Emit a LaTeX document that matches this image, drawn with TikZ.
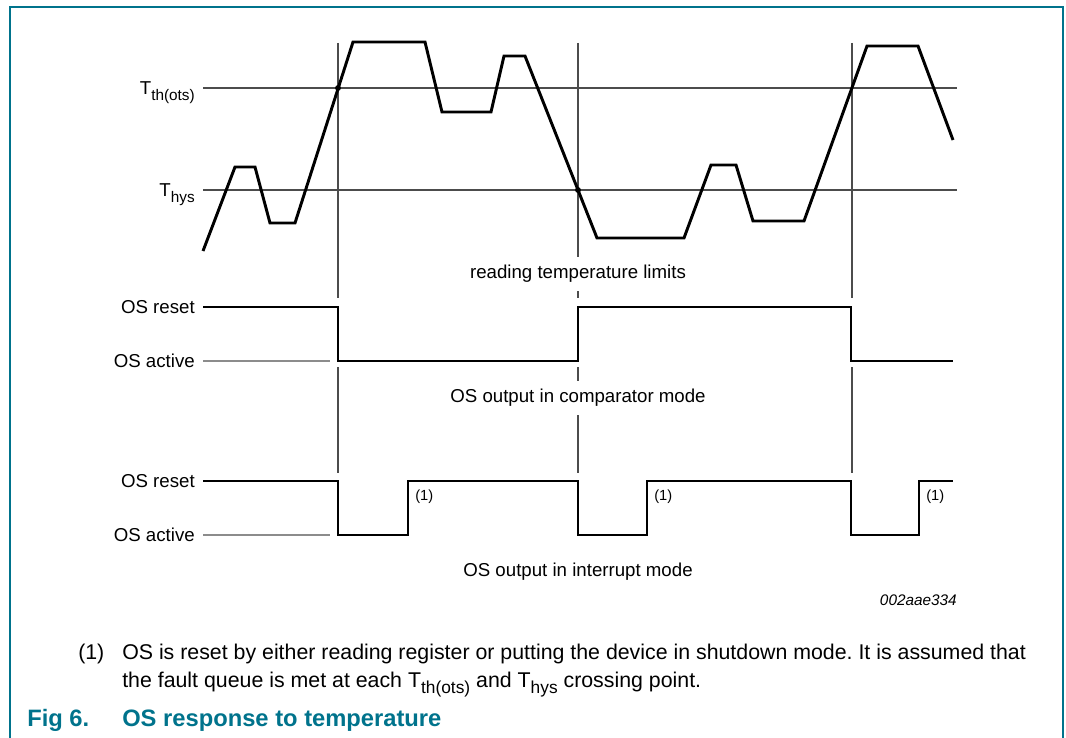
\documentclass[tikz,border=0pt]{standalone}
\usepackage{fontspec}
\setmainfont{Liberation Sans}
\usetikzlibrary{positioning}
\definecolor{nxpteal}{RGB}{0,115,140}
\newcommand\tsub[2]{\raisebox{-0.3em}{\fontsize{#1}{#1}\selectfont #2}}
\frenchspacing

\begin{document}
\begin{tikzpicture}[
    x=0.75pt, y=-0.75pt,
    wave/.style={line width=2.2pt},
    gridln/.style={line width=0.8pt, black!70},
    refln/.style={line width=0.8pt, black!45},
    lbl/.style={font=\fontsize{14}{16}\selectfont, inner sep=0pt},
    mode/.style={lbl, fill=white, inner xsep=2pt, inner ysep=6pt},
    note/.style={font=\fontsize{11}{13}\selectfont, inner sep=0pt, anchor=west},
    foot/.style={font=\fontsize{16}{18}\selectfont, inner sep=0pt, anchor=base west},
    capt/.style={font=\fontsize{17.8}{20}\selectfont\bfseries, text=nxpteal, inner sep=0pt, anchor=base west}
  ]

  \useasboundingbox (0,0) rectangle (1066,738);
  \draw[nxpteal, line width=1.5pt] (10,738) -- (10,7) -- (1063,7) -- (1063,738);

  % limits
  \coordinate (th0) at (203,88);
  \coordinate (th1) at (957,88);
  \coordinate (hy0) at (203,190);
  \coordinate (hy1) at (957,190);
  \draw[gridln] (th0) -- (th1);
  \draw[gridln] (hy0) -- (hy1);
  \node[lbl, left=6pt of th0, anchor=base east, yshift=-5pt] (Tth) {T\tsub{11.5}{th(ots)}};
  \node[lbl, left=6pt of hy0, anchor=base east, yshift=-5pt] (Thys) {T\tsub{11.5}{hys}};

  % crossing markers
  \foreach \x in {338,578,852} {
    \draw[gridln] (\x,43) -- (\x,298);
    \draw[gridln] (\x,367) -- (\x,473);
  }

  \node[mode] (rd) at (578,274) {reading temperature limits};
  \node[mode] (cmp) at (578,398) {OS output in comparator mode};
  \node[lbl] (int) at (578,572) {OS output in interrupt mode};
  \node[lbl, font=\fontsize{11.5}{13}\selectfont\itshape, anchor=east] (id) at (957,600) {002aae334};

  % temperature
  \draw[wave, line join=miter] (203,251) -- (235,167) -- (255,167) -- (270,223) -- (295,223)
    -- (353,42) -- (425,42) -- (442,112) -- (491,112) -- (504,56) -- (525,56)
    -- (597,238) -- (684,238) -- (711,165) -- (736,165) -- (753,221) -- (804,221)
    -- (867,46) -- (918,46) -- (953,140);
  \fill (338,88) circle (2.2pt);
  \fill (578,190) circle (2.2pt);

  % comparator mode
  \coordinate (cr) at (203,307);
  \coordinate (ca) at (203,361);
  \node[lbl, left=6pt of cr] (cmpR) {OS reset};
  \node[lbl, left=6pt of ca] (cmpA) {OS active};
  \draw[refln] (ca) -- (330,361);
  \draw[wave] (cr) -- (338,307) -- (338,361) -- (578,361) -- (578,307) -- (851,307)
    -- (851,361) -- (953,361);

  % interrupt mode
  \coordinate (ir) at (203,481);
  \coordinate (ia) at (203,535);
  \node[lbl, left=6pt of ir] (intR) {OS reset};
  \node[lbl, left=6pt of ia] (intA) {OS active};
  \draw[refln] (ia) -- (330,535);
  \draw[wave] (ir) -- (338,481) -- (338,535) -- (408,535) -- (408,481) -- (578,481)
    -- (578,535) -- (647,535) -- (647,481) -- (851,481) -- (851,535) -- (919,535)
    -- (919,481) -- (953,481);
  \node[note] (n1) at (415,497) {(1)};
  \node[note] (n2) at (654,497) {(1)};
  \node[note] (n3) at (926,497) {(1)};

  % footnote
  \node[foot] (fnl) at (78,659) {(1)};
  \node[foot] (fn1) at (122,659) {OS is reset by either reading register or putting the device in shutdown mode. It is assumed that};
  \node[foot] (fn2) at (122,687) {the fault queue is met at each T\tsub{13}{th(ots)} and T\tsub{13}{hys} crossing point.};
  \node[capt] (fig) at (27,726) {Fig 6.};
  \node[capt] (ttl) at (122,726) {OS response to temperature};

\end{tikzpicture}
\end{document}
